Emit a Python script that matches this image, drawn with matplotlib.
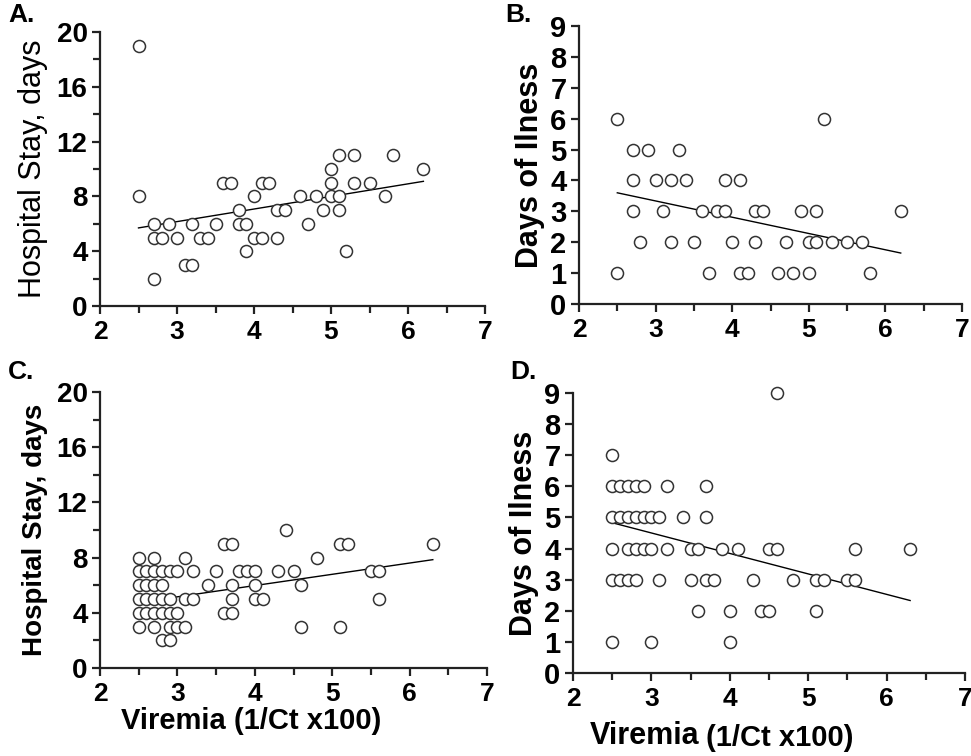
import numpy as np
import matplotlib
matplotlib.use("Agg")
import matplotlib.pyplot as plt
from matplotlib.ticker import MultipleLocator

plt.rcParams['font.family'] = ['Liberation Sans', 'DejaVu Sans']

# Panel A: viremia vs hospital stay
a_x = [2.5, 2.5, 2.7, 2.7, 2.7, 2.8, 2.9, 3.0, 3.1, 3.2, 3.2, 3.3, 3.4, 3.5,
       3.6, 3.7, 3.8, 3.8, 3.9, 3.9, 4.0, 4.0, 4.1, 4.1, 4.2, 4.3, 4.3, 4.4,
       4.6, 4.7, 4.8, 4.9, 5.0, 5.0, 5.0, 5.1, 5.1, 5.1, 5.2, 5.3, 5.3, 5.5,
       5.7, 5.8, 6.2]
a_y = [19, 8, 6, 5, 2, 5, 6, 5, 3, 3, 6, 5, 5, 6,
       9, 9, 7, 6, 6, 4, 8, 5, 9, 5, 9, 7, 5, 7,
       8, 6, 8, 7, 10, 9, 8, 11, 8, 7, 4, 11, 9, 9,
       8, 11, 10]
a_fit_x = [2.5, 6.2]
a_fit_y = [5.7, 9.1]

# Panel B: viremia vs days of illness
b_x = [2.5, 2.5, 2.7, 2.7, 2.7, 2.8, 2.9, 3.0, 3.1, 3.2, 3.2, 3.3, 3.4, 3.5,
       3.6, 3.7, 3.8, 3.9, 3.9, 4.0, 4.1, 4.1, 4.2, 4.3, 4.3, 4.4, 4.6, 4.7,
       4.8, 4.9, 5.0, 5.0, 5.1, 5.1, 5.2, 5.3, 5.5, 5.7, 5.8, 6.2]
b_y = [6, 1, 5, 4, 3, 2, 5, 4, 3, 4, 2, 5, 4, 2,
       3, 1, 3, 4, 3, 2, 4, 1, 1, 3, 2, 3, 1, 2,
       1, 3, 2, 1, 3, 2, 6, 2, 2, 2, 1, 3]
b_fit_x = [2.5, 6.2]
b_fit_y = [3.6, 1.65]

# Panel C
c_x = [4.4,
       3.6, 3.7, 5.1, 5.2, 6.3,
       2.5, 2.7, 3.1, 4.8,
       2.5, 2.6, 2.7, 2.8, 2.9, 3.0, 3.2, 3.5, 3.8, 3.9, 4.0, 4.3, 4.5, 5.5, 5.6,
       2.5, 2.6, 2.7, 2.8, 3.4, 3.7, 4.0, 4.6,
       2.5, 2.6, 2.7, 2.8, 2.9, 3.1, 3.2, 3.7, 4.0, 4.1, 5.6,
       2.5, 2.6, 2.7, 2.8, 2.9, 3.0, 3.6, 3.7,
       2.5, 2.7, 2.9, 3.0, 3.1, 4.6, 5.1,
       2.8, 2.9]
c_y = [10,
       9, 9, 9, 9, 9,
       8, 8, 8, 8,
       7, 7, 7, 7, 7, 7, 7, 7, 7, 7, 7, 7, 7, 7, 7,
       6, 6, 6, 6, 6, 6, 6, 6,
       5, 5, 5, 5, 5, 5, 5, 5, 5, 5, 5,
       4, 4, 4, 4, 4, 4, 4, 4,
       3, 3, 3, 3, 3, 3, 3,
       2, 2]
c_fit_x = [2.5, 6.3]
c_fit_y = [4.75, 7.85]

# Panel D
d_x = [4.6,
       2.5,
       2.5, 2.6, 2.7, 2.8, 2.9, 3.2, 3.7,
       2.5, 2.6, 2.7, 2.8, 2.9, 3.0, 3.1, 3.4, 3.7,
       2.5, 2.7, 2.8, 2.9, 3.0, 3.2, 3.5, 3.6, 3.9, 4.1, 4.5, 4.6, 5.6, 6.3,
       2.5, 2.6, 2.7, 2.8, 3.1, 3.5, 3.7, 3.8, 4.3, 4.8, 5.1, 5.2, 5.5, 5.6,
       3.6, 4.0, 4.4, 4.5, 5.1,
       2.5, 3.0, 4.0]
d_y = [9,
       7,
       6, 6, 6, 6, 6, 6, 6,
       5, 5, 5, 5, 5, 5, 5, 5, 5,
       4, 4, 4, 4, 4, 4, 4, 4, 4, 4, 4, 4, 4, 4,
       3, 3, 3, 3, 3, 3, 3, 3, 3, 3, 3, 3, 3, 3,
       2, 2, 2, 2, 2,
       1, 1, 1]
d_fit_x = [2.5, 6.3]
d_fit_y = [4.83, 2.33]

W, H = 971, 756
fig = plt.figure(figsize=(W / 100, H / 100), dpi=100)


def px_axes(left, top, right, bottom):
    return fig.add_axes([left / W, 1 - bottom / H, (right - left) / W, (bottom - top) / H])


def style(ax, ymax, ystep, ylabels_every, ysize):
    for s in ['top', 'right']:
        ax.spines[s].set_visible(False)
    for s in ['left', 'bottom']:
        ax.spines[s].set_linewidth(1.6)
        ax.spines[s].set_color('#222222')
    ax.set_xlim(2, 7)
    ax.set_ylim(0, ymax)
    ax.xaxis.set_major_locator(MultipleLocator(1))
    ax.xaxis.set_minor_locator(MultipleLocator(0.5))
    ax.yaxis.set_major_locator(MultipleLocator(ylabels_every))
    ax.yaxis.set_minor_locator(MultipleLocator(ystep))
    ax.tick_params(which='both', direction='out', width=1.6, color='#222222')
    ax.tick_params(which='major', length=6)
    ax.tick_params(which='minor', length=5)
    ax.tick_params(axis='x', labelsize=19, pad=4)
    ax.tick_params(axis='y', labelsize=ysize, pad=3)
    for lab in ax.get_xticklabels() + ax.get_yticklabels():
        lab.set_fontweight('bold')
    ax.patch.set_visible(False)


def draw(ax, x, y, fx, fy):
    ax.scatter(x, y, s=75, facecolors='white', edgecolors='#333333', linewidths=1.1,
               zorder=3, clip_on=False)
    ax.plot(fx, fy, color='black', lw=1.0, zorder=2)


axA = px_axes(100, 32, 485, 306)
draw(axA, a_x, a_y, a_fit_x, a_fit_y)
style(axA, 20, 2, 4, 20)
axA.set_ylabel('Hospital Stay, days', fontsize=22, labelpad=6)

axB = px_axes(579, 26, 962, 304)
draw(axB, b_x, b_y, b_fit_x, b_fit_y)
style(axB, 9, 1, 1, 21)
axB.set_ylabel('Days of Ilness', fontsize=22, fontweight='bold', labelpad=4)

axC = px_axes(100, 392, 487, 668)
draw(axC, c_x, c_y, c_fit_x, c_fit_y)
style(axC, 20, 2, 4, 20)
axC.set_ylabel('Hospital Stay, days', fontsize=20, fontweight='bold', labelpad=6)
axC.set_xlabel('Viremia (1/Ct x100)', fontsize=21, fontweight='bold', labelpad=6)
axC.xaxis.set_label_coords(0.39, -0.14)

axD = px_axes(573, 393, 965, 673)
draw(axD, d_x, d_y, d_fit_x, d_fit_y)
style(axD, 9, 1, 1, 21)
axD.set_ylabel('Days of Ilness', fontsize=22, fontweight='bold', labelpad=4)

fig.text(590 / W, 1 - 736 / H, 'Viremia', fontsize=22, fontweight='bold', va='center')
fig.text(706 / W, 1 - 738 / H, '(1/Ct x100)', fontsize=21, fontweight='bold', va='center')

for lab, xp, yp in [('A.', 8, 15), ('B.', 505, 15), ('C.', 8, 372), ('D.', 510, 372)]:
    fig.text(xp / W, 1 - yp / H, lab, fontsize=19, fontweight='bold', va='center')

fig.savefig('out.png', dpi=100)
